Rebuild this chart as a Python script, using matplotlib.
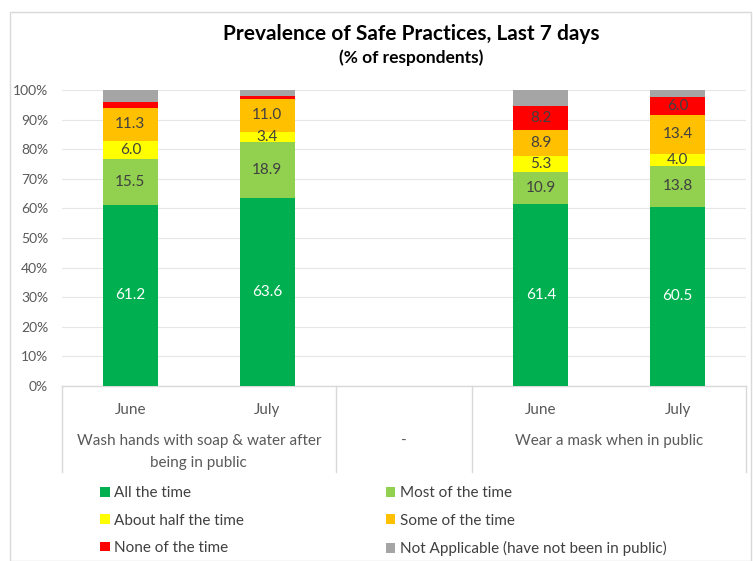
import matplotlib.pyplot as plt
import matplotlib.patches as mpatches
import numpy as np

plt.rcParams['font.family'] = ['Lato', 'DejaVu Sans']

# data
months = ["June", "July", "", "June", "July"]
groups = ["Wash hands with soap & water after\nbeing in public", "-", "Wear a mask when in public"]
series = ["All the time", "Most of the time", "About half the time",
          "Some of the time", "None of the time", "Not Applicable (have not been in public)"]
colors = ["#00B050", "#92D050", "#FFFF00", "#FFC000", "#FF0000", "#A5A5A5"]

all_time   = [61.2, 63.6, 0, 61.4, 60.5]
most_time  = [15.5, 18.9, 0, 10.9, 13.8]
half_time  = [6.0, 3.4, 0, 5.3, 4.0]
some_time  = [11.3, 11.0, 0, 8.9, 13.4]
none_time  = [1.9, 1.0, 0, 8.2, 6.0]
not_appl   = [4.1, 2.1, 0, 5.3, 2.3]
values = [all_time, most_time, half_time, some_time, none_time, not_appl]

fig = plt.figure(figsize=(7.53, 5.61), dpi=100)
ax = fig.add_axes([62/753, 175/561, 684/753, 296/561])

x = np.arange(len(months))
bottom = np.zeros(len(months))
handles = []
for i, (name, vals, col) in enumerate(zip(series, values, colors)):
    vals = np.array(vals, dtype=float)
    mask = vals > 0
    bars = ax.bar(x[mask], vals[mask], 0.4, bottom=bottom[mask], color=col, label=name, zorder=3)
    handles.append(bars)
    # labels only on segments big enough (none on the gray one)
    if i < 5:
        for xi, v, b in zip(x[mask], vals[mask], bottom[mask]):
            if v >= 3:
                tc = "white" if i == 0 else "#404040"
                ax.text(xi, b + v/2, f"{v:.1f}", ha='center', va='center',
                        color=tc, fontsize=11, zorder=4)
    bottom = bottom + vals

ax.set_xlim(-0.5, 4.5)
ax.set_ylim(0, 100)
ax.set_yticks(np.arange(0, 101, 10))
ax.set_yticklabels([f"{t}%" for t in range(0, 101, 10)], fontsize=10, color="#595959")
ax.yaxis.grid(True, color="#e6e6e6", lw=0.8, zorder=0)
ax.tick_params(axis='y', length=0, pad=10)
ax.set_xticks([])
for s in ax.spines.values():
    s.set_visible(False)

# multi-level category axis
trans = ax.get_xaxis_transform()
for xb in [-0.5, 1.5, 2.5, 4.5]:
    ax.plot([xb, xb], [0, -0.29], transform=trans, color="#d9d9d9", lw=1, clip_on=False)
ax.plot([-0.5, 4.5], [0, 0], transform=trans, color="#d9d9d9", lw=1, clip_on=False)
for xi, m in zip(x, months):
    ax.text(xi, -0.08, m, transform=trans, ha='center', va='center', fontsize=11, color="#595959")
for gx, g in zip([0.5, 2, 3.5], groups):
    ax.text(gx, -0.163, g, transform=trans, ha='center', va='top', fontsize=11,
            color="#595959", linespacing=1.75)

fig.text(0.546, 0.94, "Prevalence of Safe Practices, Last 7 days", ha='center', va='center',
         fontsize=15, fontweight='bold', color="black")
fig.text(0.546, 0.898, "(% of respondents)", ha='center', va='center',
         fontsize=12.5, fontweight='bold', color="black")

# legend, row-wise order in 2 columns
order = [0, 2, 4, 1, 3, 5]
leg = fig.legend([handles[i] for i in order], [series[i] for i in order], ncol=2,
                 loc='upper left', bbox_to_anchor=(0.115, 0.158), frameon=False,
                 fontsize=11, handlelength=0.6, handleheight=0.6, handletextpad=0.3,
                 columnspacing=9.3, labelspacing=0.88, labelcolor="#404040")

# outer chart border
fig.patches.append(mpatches.Rectangle((10/753, 0), 741/753, 549/561, transform=fig.transFigure,
                                      fill=False, edgecolor="#d9d9d9", lw=1))

plt.savefig("out.png", dpi=100)
